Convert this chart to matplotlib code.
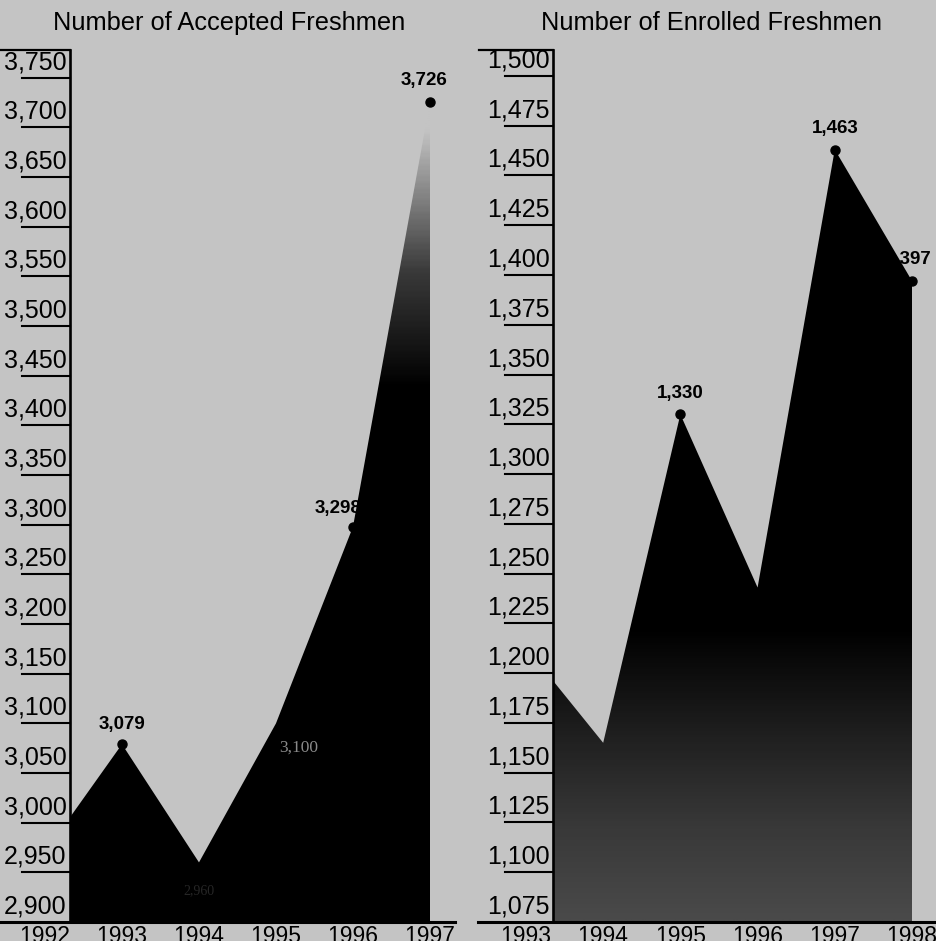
import numpy as np
import matplotlib
matplotlib.use("Agg")
import matplotlib.pyplot as plt
from matplotlib.colors import LinearSegmentedColormap
from matplotlib.patches import PathPatch

plt.rcParams["font.family"] = ["Liberation Sans", "DejaVu Sans"]

BG = "#c4c4c4"

# accepted freshmen (left panel)
acc_years = [1992, 1993, 1994, 1995, 1996, 1997]
acc_vals = [2970, 3079, 2960, 3100, 3298, 3726]
acc_ticks = list(range(2900, 3751, 50))
acc_labels = {1993: "3,079", 1996: "3,298", 1997: "3,726"}

# enrolled freshmen (right panel)
enr_years = [1993, 1994, 1995, 1996, 1997, 1998]
enr_vals = [1213, 1165, 1330, 1243, 1463, 1397]
enr_ticks = list(range(1075, 1501, 25))
enr_labels = {1995: "1,330", 1997: "1,463", 1998: "1,397"}

W, H = 937, 941


def px_axes(x0, x1, ytop, ybot):
    return [x0 / W, (H - ybot) / H, (x1 - x0) / W, (ybot - ytop) / H]


def gradient_fill(ax, x, y, cmap):
    x0, x1 = ax.get_xlim()
    y0, y1 = ax.get_ylim()
    poly = ax.fill_between(x, y, y0, facecolor="none", edgecolor="none")
    patch = PathPatch(poly.get_paths()[0], transform=ax.transData,
                      facecolor="none", edgecolor="none")
    ax.add_patch(patch)
    grad = np.linspace(0, 1, 400).reshape(-1, 1)
    im = ax.imshow(grad, extent=[x0, x1, y0, y1], aspect="auto", origin="lower",
                   cmap=cmap, zorder=1, interpolation="bilinear")
    im.set_clip_path(patch)


def frame(ax, ticks, tick_x0, base_x0, base_x1, top_x0):
    ax.set_facecolor("none")
    for s in ["top", "right", "bottom"]:
        ax.spines[s].set_visible(False)
    ax.spines["left"].set_linewidth(1.9)
    ax.spines["left"].set_zorder(5)
    ax.set_xticks([]); ax.set_yticks([])
    lo, hi = ax.get_ylim()
    yt = ax.get_yaxis_transform()
    for t in ticks[1:]:
        ax.plot([tick_x0, 0], [t, t], color="black", lw=1.5, transform=yt, clip_on=False)
    for t in ticks:
        ax.text(-0.01, t + (hi - lo) * 0.004, f"{t:,}",
                transform=yt, ha="right", va="bottom", fontsize=18, clip_on=False)
    ax.plot([base_x0, base_x1], [lo, lo], color="black", lw=2.2,
            transform=yt, clip_on=False, zorder=6)
    ax.plot([top_x0, 0], [hi, hi], color="black", lw=1.6, transform=yt, clip_on=False)


def year_labels(ax, years):
    # the scan cuts these off at the bottom edge
    xt = ax.get_xaxis_transform()
    for yr in years:
        ax.text(yr, -0.003, str(yr), transform=xt, ha="center", va="top",
                fontsize=16.5, clip_on=False)


fig = plt.figure(figsize=(W / 100, H / 100), dpi=100, facecolor=BG)

# ---- left: accepted
axL = fig.add_axes(px_axes(70, 430, 50, 922))
axL.set_xlim(1992.325, 1997)
axL.set_ylim(2900, 3778)
span = 3778 - 2900
p0 = (3440 - 2900) / span
p1 = (3700 - 2900) / span
cmapL = LinearSegmentedColormap.from_list(
    "acc", [(0, "#000000"), (p0, "#000000"), (p0 + (p1 - p0) * 0.45, "#3a3a3a"),
            (p1, BG), (1, BG)])
gradient_fill(axL, acc_years, acc_vals, cmapL)
frame(axL, acc_ticks, -0.133, -0.195, 1.07, -0.195)
for yr, v in zip(acc_years, acc_vals):
    if yr in acc_labels:
        axL.plot(yr, v, "o", color="black", ms=6.5, zorder=4, clip_on=False)
lab = dict(textcoords="offset points", ha="center", va="bottom", fontsize=13.5,
           fontweight="bold", zorder=6, annotation_clip=False)
axL.annotate(acc_labels[1993], (1993, 3079), xytext=(0, 8), **lab)
axL.annotate(acc_labels[1996], (1996, 3298), xytext=(-11, 7), **lab)
axL.annotate(acc_labels[1997], (1997, 3726), xytext=(-4, 9), **lab)
axL.annotate("3,100", (1995, 3100), xytext=(16, -12), textcoords="offset points",
             ha="center", va="top", fontsize=12.5, color="#8a8a8a", zorder=6,
             family=["Liberation Serif", "DejaVu Serif"])
axL.annotate("2,960", (1994, 2960), xytext=(0, -16), textcoords="offset points",
             ha="center", va="top", fontsize=10, color="#262626", zorder=6,
             family=["Liberation Serif", "DejaVu Serif"])
year_labels(axL, acc_years)
fig.text(229 / W, 1 - 23 / H, "Number of Accepted Freshmen", ha="center", va="center",
         fontsize=18.3)

# ---- right: enrolled
axR = fig.add_axes(px_axes(553, 912, 50, 922))
axR.set_xlim(1993.35, 1998)
axR.set_ylim(1075, 1513)
spanR = 1513 - 1075
q0 = (1170 - 1075) / spanR
q1 = (1222 - 1075) / spanR
cmapR = LinearSegmentedColormap.from_list(
    "enr", [(0, "#4a4a4a"), (q0 * 0.5, "#383838"), (q0, "#1e1e1e"), (q1, "#000000"),
            (1, "#000000")])
gradient_fill(axR, enr_years, enr_vals, cmapR)
frame(axR, enr_ticks, -0.134, -0.21, 1.08, -0.205)
for yr, v in zip(enr_years, enr_vals):
    if yr in enr_labels:
        axR.plot(yr, v, "o", color="black", ms=6.5, zorder=4, clip_on=False)
axR.annotate(enr_labels[1995], (1995, 1330), xytext=(0, 9), **lab)
axR.annotate(enr_labels[1997], (1997, 1463), xytext=(0, 9), **lab)
# "1," falls on the black area, so only "397" shows
axR.annotate(enr_labels[1998], (1998, 1397), xytext=(14, 9), **dict(lab, ha="right", zorder=2))
year_labels(axR, enr_years)
fig.text(712 / W, 1 - 23 / H, "Number of Enrolled Freshmen", ha="center", va="center",
         fontsize=18.3)

fig.savefig("out.png", dpi=100, facecolor=BG)
